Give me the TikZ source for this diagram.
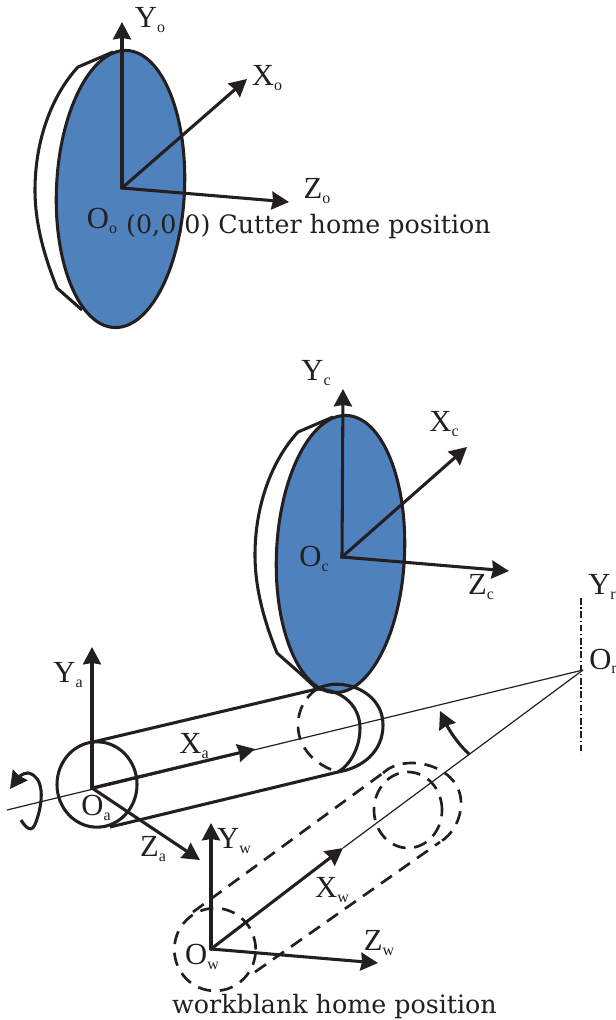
\documentclass[tikz,border=0pt]{standalone}
\usepackage{fontspec}
\setmainfont{DejaVu Serif}
\newfontfamily\axfont{Liberation Serif}
\usetikzlibrary{arrows.meta,shapes.geometric}
\definecolor{cutBlue}{HTML}{4F81BD}
\definecolor{inkDark}{HTML}{231F20}
\newcommand{\axlab}[2]{{\axfont\fontsize{23}{23}\selectfont #1\raisebox{-0.3ex}{\fontsize{12}{12}\selectfont #2}}}

\begin{document}
\begin{tikzpicture}[
    x=0.75pt, y=-0.75pt,
    >={Stealth[length=13pt,width=13.5pt,inset=1pt]},
    ink/.style={draw=inkDark, line width=2.3pt},
    axisline/.style={ink, ->, shorten <=-1pt},
    thinline/.style={draw=inkDark, line width=0.9pt},
    dashline/.style={ink, line width=2pt, dash pattern=on 10pt off 6.5pt},
    disc/.style={ellipse, ink, fill=cutBlue, rotate=-2.6, inner sep=0pt,
                 minimum width=96pt, minimum height=208pt},
    lab/.style={text=inkDark, inner sep=0pt},
    captxt/.style={text=inkDark, inner sep=0pt, font=\fontsize{19}{19}\selectfont},
  ]
  \useasboundingbox (0,0) rectangle (615,1020);

  % cutter at home
  \draw[ink] (113,52) -- (78,67) .. controls (52,95) and (35,140) .. (35,190)
    .. controls (35,225) and (45,258) .. (57,288) -- (82,310);
  \node[disc] (discO) at (120.5,189) {};
  \coordinate (Oo) at (122,188);
  \coordinate (YoEnd) at (122,22);
  \coordinate (XoEnd) at (247,79);
  \coordinate (ZoEnd) at (289,202);
  \draw[axisline] (Oo) -- (YoEnd);
  \draw[axisline] (Oo) -- (XoEnd);
  \draw[axisline] (Oo) -- (ZoEnd);
  \node[lab] (Yo) at (150,20) {\axlab{Y}{o}};
  \node[lab] (Xo) at (267,78) {\axlab{X}{o}};
  \node[lab] (Zo) at (317,191) {\axlab{Z}{o}};
  \node[lab] (Oolab) at (102,221) {\axlab{O}{o}};
  \node[captxt] (home) at (308.5,227) {(0,0,0) Cutter home position};

  % cutter at work
  \draw[ink] (333,417) -- (298,432) .. controls (272,460) and (255,505) .. (255,555)
    .. controls (255,590) and (265,623) .. (277,653) -- (302,675) -- (318,690);
  \node[disc] (discC) at (340.5,554) {};
  \coordinate (Oc) at (342,557);
  \coordinate (YcEnd) at (343,389);
  \coordinate (XcEnd) at (467,447);
  \coordinate (ZcEnd) at (509,571);
  \draw[axisline] (Oc) -- (YcEnd);
  \draw[axisline] (Oc) -- (XcEnd);
  \draw[axisline] (Oc) -- (ZcEnd);
  \node[lab] (Yc) at (316,373) {\axlab{Y}{c}};
  \node[lab] (Xc) at (444,424) {\axlab{X}{c}};
  \node[lab] (Zc) at (481,587) {\axlab{Z}{c}};
  \node[lab] (Oclab) at (314,559) {\axlab{O}{c}};

  % rotation axis
  \coordinate (Or) at (583,670);
  \coordinate (YrTop) at (581,598);
  \coordinate (YrEnd) at (581,754);
  \coordinate (axisEnd) at (7,810);
  \draw[thinline, dash pattern=on 5pt off 2pt on 1pt off 2pt] (YrTop) -- (YrEnd);
  \draw[thinline] (axisEnd) -- (Or);
  \node[lab] (Yr) at (602,587) {\axlab{Y}{r}};
  \node[lab] (Orlab) at (603,661) {\axlab{O}{r}};

  % workpiece on the axis
  \node[ellipse, ink, inner sep=0pt, minimum width=60pt, minimum height=64pt] (endA) at (97,784.5) {};
  \coordinate (topA) at (93,742);
  \coordinate (topB) at (317,689);
  \coordinate (botA) at (110,827);
  \coordinate (botB) at (338,772);
  \draw[ink] (topA) -- (topB);
  \draw[ink] (botA) -- (botB);
  \draw[ink] (topB) .. controls (340,676) and (383,690) .. (383,725)
    .. controls (383,752) and (362,768) .. (botB);
  \draw[ink] (topB) .. controls (345,690) and (360,708) .. (360,728)
    .. controls (360,748) and (350,765) .. (botB);
  \draw[dashline] (topB) .. controls (305,697) and (298,710) .. (298,725)
    .. controls (298,748) and (315,765) .. (botB);
  \coordinate (Oa) at (92,788);
  \coordinate (YaEnd) at (92,647);
  \coordinate (XaEnd) at (255,749);
  \coordinate (ZaEnd) at (200,860);
  \draw[axisline] (Oa) -- (YaEnd);
  \draw[axisline] (Oa) -- (XaEnd);
  \draw[axisline] (Oa) -- (ZaEnd);
  \node[lab] (Ya) at (68,675) {\axlab{Y}{a}};
  \node[lab] (Xa) at (194,746) {\axlab{X}{a}};
  \node[lab] (Oalab) at (96,808) {\axlab{O}{a}};
  \node[lab] (Za) at (153,849) {\axlab{Z}{a}};
  \coordinate (spinA) at (21,820);
  \coordinate (spinB) at (10,789);
  \draw[ink, ->] (spinA) .. controls (26,828) and (32,834) .. (36,822)
    .. controls (44,800) and (44,776) .. (28,773) .. controls (22,773) and (18,778) .. (spinB);

  % workblank at home
  \node[ellipse, dashline, inner sep=0pt, minimum width=61pt, minimum height=62pt] (endW) at (215,949.5) {};
  \node[ellipse, dashline, inner sep=0pt, minimum width=51pt, minimum height=57pt] (farW) at (408,810) {};
  \coordinate (topW) at (193,912);
  \coordinate (topF) at (383,773);
  \coordinate (botW) at (255,972);
  \coordinate (botF) at (440,842);
  \draw[dashline] (topW) -- (topF);
  \draw[dashline] (botW) -- (botF);
  \draw[dashline] (topF) .. controls (405,752) and (461,765) .. (461,803)
    .. controls (461,820) and (452,835) .. (botF);
  \coordinate (Ow) at (211,949);
  \coordinate (YwEnd) at (211,823);
  \coordinate (XwEnd) at (343,848);
  \coordinate (ZwEnd) at (378,963);
  \draw[thinline] (XwEnd) -- (Or);
  \draw[axisline] (Ow) -- (YwEnd);
  \draw[axisline] (Ow) -- (XwEnd);
  \draw[axisline] (Ow) -- (ZwEnd);
  \node[lab] (Yw) at (234,841) {\axlab{Y}{w}};
  \node[lab] (Xw) at (332,890) {\axlab{X}{w}};
  \node[lab] (Owlab) at (202,957) {\axlab{O}{w}};
  \node[lab] (Zw) at (379,943) {\axlab{Z}{w}};
  \node[captxt] (blank) at (334.5,1006) {workblank home position};

  % swing angle
  \coordinate (swingA) at (469,754);
  \coordinate (swingB) at (440,711);
  \draw[ink, ->] (swingA) .. controls (458,744) and (449,730) .. (swingB);
\end{tikzpicture}
\end{document}
